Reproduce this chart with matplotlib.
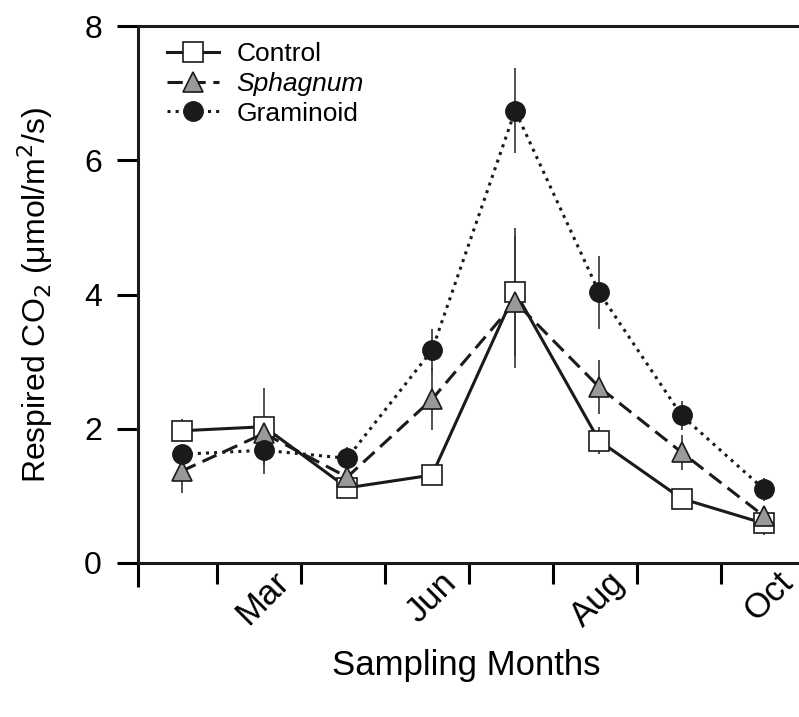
import matplotlib.pyplot as plt
import matplotlib.transforms as mtransforms

plt.rcParams['font.family'] = ['Liberation Sans', 'DejaVu Sans']

# sampling dates, in units of the x tick spacing
sample_x = [0.58, 1.56, 2.55, 3.56, 4.55, 5.55, 6.53, 7.51]
tick_pos = [0.06, 1, 2, 3, 4, 5, 6, 7, 8]
tick_labels = ["", "", "Mar", "", "Jun", "", "Aug", "", "Oct"]

control = [1.97, 2.03, 1.12, 1.31, 4.04, 1.82, 0.96, 0.59]
control_err = [0.17, 0.57, 0.14, 0.0, 0.95, 0.20, 0.0, 0.18]
sphagnum = [1.37, 1.93, 1.28, 2.44, 3.89, 2.62, 1.65, 0.70]
sphagnum_err = [0.32, 0.0, 0.0, 0.46, 0.98, 0.40, 0.26, 0.0]
graminoid = [1.62, 1.68, 1.56, 3.17, 6.74, 4.03, 2.20, 1.10]
graminoid_err = [0.0, 0.35, 0.17, 0.31, 0.63, 0.55, 0.22, 0.17]

if __name__ == "__main__":
    fig = plt.figure(figsize=(7.99, 7.17), dpi=100)
    ax = fig.add_axes([138 / 799, 1 - 563 / 717, 667 / 799, 537 / 717])
    dark = '#1a1a1a'

    # error bars behind the markers
    ax.errorbar(sample_x, control, yerr=control_err, fmt='none', ecolor='#333333', elinewidth=1.2, zorder=1)
    ax.errorbar(sample_x, sphagnum, yerr=sphagnum_err, fmt='none', ecolor='#333333', elinewidth=1.2, zorder=1)
    ax.errorbar(sample_x, graminoid, yerr=graminoid_err, fmt='none', ecolor='#333333', elinewidth=1.2, zorder=1)

    ax.plot(sample_x, control, color=dark, lw=2.2, marker='s', ms=14, mfc='white', mec=dark, mew=1.2,
            label='Control', zorder=3)
    ax.plot(sample_x, sphagnum, color=dark, lw=2.2, dashes=(5, 2.5), marker='^', ms=14, mfc='#999999', mec=dark,
            mew=1.2, label='Sphagnum', zorder=4)
    ax.plot(sample_x, graminoid, color=dark, lw=2.2, ls=':', marker='o', ms=14, mfc=dark, mec=dark, mew=1.0,
            label='Graminoid', zorder=5)

    ax.set_xlim(0.06, 8.0)
    ax.set_ylim(0, 8)
    ax.set_yticks([0, 2, 4, 6, 8])
    ax.set_xticks(tick_pos)
    ax.set_xticklabels(tick_labels)
    ax.tick_params(axis='x', direction='out', length=15, width=2.2, pad=2, labelsize=25, labelrotation=45)
    ax.tick_params(axis='y', direction='out', length=15, width=2.2, labelsize=23, pad=11)
    ax.xaxis.get_major_ticks()[0].tick1line.set_markersize(17)
    shift = mtransforms.ScaledTranslation(-29 / 100, 21 / 100, fig.dpi_scale_trans)
    for lab in ax.get_xticklabels():
        lab.set_ha('right')
        lab.set_va('top')
        lab.set_rotation_mode('anchor')
        lab.set_transform(lab.get_transform() + shift)

    ax.spines['right'].set_visible(False)
    for side in ['left', 'top', 'bottom']:
        ax.spines[side].set_linewidth(2.2)
        ax.spines[side].set_color(dark)

    ax.set_ylabel("Respired CO$_2$ (\u03bcmol/m$^2$/s)", fontsize=23)
    ax.set_xlabel("Sampling Months", fontsize=25)
    ax.yaxis.set_label_coords(-(138 - 35) / 667, 0.5)
    ax.xaxis.set_label_coords((466 - 138) / 667, -(665 - 563) / 537)
    ax.xaxis.label.set_va('center')
    ax.yaxis.label.set_va('center')

    leg = ax.legend(loc='upper left', bbox_to_anchor=(0.043, 0.97), frameon=False, fontsize=19,
                    handlelength=2.0, handletextpad=0.65, labelspacing=0.22, borderpad=0, borderaxespad=0)
    leg.get_texts()[1].set_fontstyle('italic')

    fig.savefig("out.png", dpi=100)
